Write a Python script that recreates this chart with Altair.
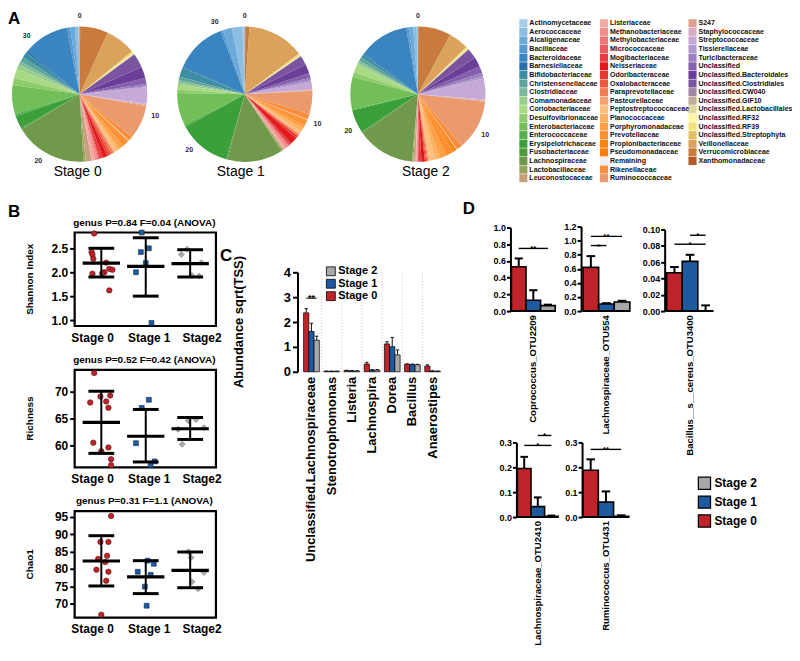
import math
import altair as alt
import pandas as pd

OFF = 8
W, H = 788, 645
FONT = "Liberation Sans"


def P(v):
    return v - OFF


def lin(domain, rng):
    return alt.Scale(domain=list(domain), range=[P(r) for r in rng], nice=False, zero=False)


RED = "#bf242a"
BLUE = "#1d5a9f"
GRAY = "#a8a8a8"
stage_names = ["Stage 0", "Stage 1", "Stage 2"]
stage_colors = [RED, BLUE, GRAY]

# ---------------- Panel A data ----------------
families = [
    "Actinomycetaceae", "Aerococcaceae", "Alcaligenaceae", "Bacillaceae", "Bacteroidaceae",
    "Barnesiellaceae", "Bifidobacteriaceae", "Christensenellaceae", "Clostridiaceae", "Comamonadaceae",
    "Coriobacteriaceae", "Desulfovibrionaceae", "Enterobacteriaceae", "Enterococcaceae", "Erysipelotrichaceae",
    "Fusobacteriaceae", "Lachnospiraceae", "Lactobacillaceae", "Leuconostocaceae",
    "Listeriaceae", "Methanobacteriaceae", "Methylobacteriaceae", "Micrococcaceae", "Mogibacteriaceae",
    "Neisseriaceae", "Odoribacteraceae", "Oxalobacteraceae", "Paraprevotellaceae", "Pasteurellaceae",
    "Peptostreptococcaceae", "Planococcaceae", "Porphyromonadaceae", "Prevotellaceae", "Propionibacteriaceae",
    "Pseudomonadaceae", "Remaining", "Rikenellaceae", "Ruminococcaceae",
    "S247", "Staphylococcaceae", "Streptococcaceae", "Tissierellaceae", "Turicibacteraceae", "Unclassified",
    "Unclassified.Bacteroidales", "Unclassified.Clostridiales", "Unclassified.CW040", "Unclassified.GIF10",
    "Unclassified.Lactobacillales", "Unclassified.RF32", "Unclassified.RF39", "Unclassified.Streptophyta",
    "Veillonellaceae", "Verrucomicrobiaceae", "Xanthomonadaceae",
]
family_colors = [
    "#a6cde8", "#8cbde2", "#6eaad9", "#5598cf", "#3a85c0",
    "#2670ad", "#3d8ea5", "#5ba59a", "#7db999", "#98cd8c",
    "#a9d982", "#8fcc6c", "#72bf58", "#55b04a", "#3b9f3a",
    "#4c9c3c", "#71994b", "#98a45e", "#c9a07e",
    "#f2aaa3", "#f18e8c", "#ef7475", "#ec5a5c", "#e83c40",
    "#e3191c", "#e7372e", "#ec5a3d", "#f07c52", "#f5a070",
    "#fdbf7c", "#fdb060", "#fda046", "#fd8f2c", "#fd8416",
    "#fa7d0e", "#f0f0f0", "#f88e3c", "#ea9a6c",
    "#dfa18e", "#d6afc6", "#c6a9d6", "#b39ace", "#9c7fc0", "#8460ad",
    "#6b3e9a", "#7a549f", "#a08aa3", "#c0ab9c",
    "#e0d6a2", "#fbf7a0", "#f1e27a", "#e2c165",
    "#dba25c", "#c87b3d", "#b55727",
]
pie_stage0 = [1, 3, 4, 3, 39, 2, 5, 4, 3, 4, 8, 6, 25, 2, 11, 1, 62, 2, 5,
              3, 2, 1, 1, 3, 4, 2, 2, 2, 1, 3, 2, 4, 4, 1, 1, 0.5, 4, 29,
              1, 1, 14, 1, 2, 5, 10, 12, 0.5, 0.3, 0.3, 0.5, 1.5, 0.5, 26, 24, 0.5]
pie_stage1 = [2, 9, 8, 2, 45, 1, 8, 3, 2, 2, 4, 3, 28, 2, 45, 1, 48, 1.5, 1,
              2, 2, 1, 1, 2, 6, 2, 1, 1, 1, 2, 3, 3, 3, 1, 1, 0.5, 5, 20,
              0.5, 0.5, 6, 2, 2, 4, 8, 8, 0.3, 0.2, 0.2, 0.3, 1.5, 0.5, 49, 3.5, 0.5]
pie_stage2 = [1, 3, 4, 2, 43, 1, 3, 3, 2, 2, 7, 4, 28, 1, 20, 1, 50, 1, 2,
              1, 0.5, 0.5, 1, 2, 3, 1, 1, 1, 1, 5, 4, 6, 6, 2, 2, 0.5, 5, 43,
              1, 1, 18, 2, 3, 6, 8, 9, 0.2, 0.3, 0.2, 0.3, 1.5, 0.5, 17, 28, 0.5]
pie_axis_total = [34, 32, 29.7]
pie_ticks = [[0, 10, 20, 30], [0, 10, 20, 30], [0, 10, 20]]

# ---------------- Panel B data ----------------
b_titles = ["genus P=0.84 F=0.04 (ANOVA)", "genus P=0.52 F=0.42 (ANOVA)", "genus P=0.31 F=1.1 (ANOVA)"]
b_ylabels = ["Shannon Index", "Richness", "Chao1"]
b_xlabels = ["Stage 0", "Stage 1", "Stage2"]

shannon_x = [[0.84, 0.78, 0.80, 0.82, 1.11, 1.18, 1.25, 1.07, 1.02, 0.80, 1.18],
             [1.91, 2.07, 1.89, 2.00, 1.78, 2.13],
             [2.93, 2.80, 3.25, 3.04, 3.20]]
shannon_v = [[2.81, 2.42, 2.37, 2.28, 2.20, 2.07, 2.05, 2.00, 1.98, 1.97, 1.62],
             [2.83, 2.50, 2.42, 2.19, 2.00, 0.94],
             [2.48, 2.37, 2.20, 1.93, 1.92]]
shannon_mean = [2.19, 2.12, 2.18]
shannon_lo = [1.90, 1.50, 1.90]
shannon_hi = [2.50, 2.72, 2.47]

richness_x = [[0.84, 0.75, 0.98, 1.20, 1.11, 1.16, 0.82, 1.00, 1.16, 1.22, 1.22],
              [2.07, 1.91, 1.78, 2.20, 2.11],
              [2.73, 2.82, 2.96, 3.13, 3.31]]
richness_v = [[73.5, 68.0, 69.1, 69.3, 68.2, 67.0, 60.5, 58.9, 59.6, 57.4, 56.3],
              [68.5, 67.0, 60.4, 57.0, 56.3],
              [63.0, 60.2, 64.6, 64.8, 63.3]]
richness_mean = [64.3, 61.7, 63.1]
richness_lo = [58.5, 56.9, 61.1]
richness_hi = [70.1, 66.7, 65.2]

chao1_x = [[1.22, 0.98, 1.16, 1.13, 0.93, 1.09, 0.89, 1.16, 1.11, 1.00],
           [2.04, 2.18, 1.82, 2.11, 1.98, 2.02],
           [2.96, 3.02, 3.04, 3.18, 3.31]]
chao1_v = [[95.3, 87.8, 87.8, 83.8, 82.9, 82.0, 79.8, 79.2, 76.6, 66.8],
           [82.4, 81.5, 79.2, 78.3, 74.9, 69.4],
           [85.0, 83.3, 76.3, 74.3, 79.0]]
chao1_mean = [82.3, 77.7, 79.6]
chao1_lo = [75.1, 72.9, 74.6]
chao1_hi = [89.6, 82.4, 84.9]

shannon_ticks = [1.0, 1.5, 2.0, 2.5]
richness_ticks = [60, 65, 70]
chao1_ticks = [70, 75, 80, 85, 90, 95]

# ---------------- Panel C data ----------------
c_cats = ["Unclassified.Lachnospiraceae", "Stenotrophomonas", "Listeria", "Lachnospira",
          "Dorea", "Bacillus", "Anaerostipes"]
c_mean = [[2.37, 0.02, 0.05, 0.31, 1.12, 0.30, 0.23],
          [1.62, 0.02, 0.04, 0.07, 1.01, 0.29, 0.03],
          [1.27, 0.02, 0.03, 0.07, 0.68, 0.28, 0.02]]
c_err = [[0.17, 0.005, 0.01, 0.07, 0.09, 0.02, 0.05],
         [0.33, 0.005, 0.01, 0.02, 0.37, 0.02, 0.01],
         [0.16, 0.005, 0.01, 0.02, 0.20, 0.02, 0.01]]
c_ticks = [0, 1, 2, 3, 4]
c_sig = [(0, 0, 2, 2.96, "**")]

# ---------------- Panel D data ----------------
d_names = ["Coprococcus_OTU2209", "Lachnospiraceae_OTU554", "Bacillus__s__cereus_OTU3400",
           "Lachnospiraceae_OTU2410", "Ruminococcus_OTU431"]
d_mean = [[0.53, 0.13, 0.065], [0.62, 0.10, 0.13], [0.047, 0.061, 0.0],
          [0.195, 0.042, 0.003], [0.188, 0.06, 0.003]]
d_err = [[0.10, 0.12, 0.012], [0.16, 0.012, 0.016], [0.007, 0.008, 0.007],
         [0.047, 0.037, 0.003], [0.044, 0.043, 0.004]]
d_sig = [[(0, 2, 0.75, "**")],
         [(0, 1, 0.93, "*"), (0, 2, 1.06, "**")],
         [(0, 2, 0.082, "*"), (1, 2, 0.093, "*")],
         [(0, 2, 0.288, "*"), (1, 2, 0.328, "*")],
         [(0, 2, 0.272, "**")]]
d_ticks = [[0.0, 0.2, 0.4, 0.6, 0.8, 1.0], [0.0, 0.2, 0.4, 0.6, 0.8, 1.0, 1.2],
           [0.0, 0.02, 0.04, 0.06, 0.08, 0.10], [0.0, 0.1, 0.2, 0.3], [0.0, 0.1, 0.2, 0.3]]
d_ymax = [1.0, 1.2, 0.10, 0.3, 0.3]
d_fmt = [".1f", ".1f", ".2f", ".1f", ".1f"]

# ---------------- helpers ----------------
layers = []


def text_at(s, x, y, size, weight="bold", align="center", baseline="middle", angle=0, color="black"):
    return alt.Chart(pd.DataFrame({"t": [s]})).mark_text(
        x=P(x), y=P(y), fontSize=size, fontWeight=weight, align=align, baseline=baseline,
        angle=angle, fill=color, font=FONT).encode(text="t:N")


def yaxis(at_x, ticks, fmt, size, tick_size=5, domain=True, pad=2):
    return alt.Axis(orient="left", offset=-P(at_x), values=ticks, format=fmt, domain=domain,
                    domainColor="black", domainWidth=2, ticks=True, tickColor="black", tickWidth=2,
                    tickSize=tick_size, labelFont=FONT, labelFontSize=size, labelFontWeight="bold",
                    labelColor="black", labelPadding=pad, grid=False, title="",
                    labelFlush=False, labelOverlap=False)


stage_fill = alt.Scale(domain=[0, 1, 2], range=stage_colors)

# ---------------- Panel letters ----------------
layers.append(text_at("A", 8, 9, 17, align="left", baseline="top"))
layers.append(text_at("B", 8, 211, 17, align="left"))
layers.append(text_at("C", 221, 256, 17, align="left"))
layers.append(text_at("D", 465, 208, 17, align="left"))

# ---------------- Panel A: pies ----------------
pie_centers = [(80, 93), (246, 93), (420, 93)]
stage_label_x = [78, 242, 428]
PIE_R = 68
LABEL_R = 79
for s, vals in enumerate([pie_stage0, pie_stage1, pie_stage2]):
    cx, cy = pie_centers[s]
    df = pd.DataFrame({"family": families, "value": vals,
                       "rank": list(range(len(families) - 1, -1, -1))})
    total = float(sum(vals))
    layers.append(alt.Chart(df).mark_arc(radius=PIE_R, x=P(cx), y=P(cy)).encode(
        theta=alt.Theta("value:Q", stack=True,
                        scale=alt.Scale(domain=[0, total], range=[0, 2 * math.pi])),
        color=alt.Color("family:N", scale=alt.Scale(domain=families, range=family_colors), legend=None),
        order=alt.Order("rank:Q", sort="ascending"),
    ))
    tdf = pd.DataFrame({"tick": pie_ticks[s]})
    layers.append(alt.Chart(tdf).mark_text(radius=LABEL_R, x=P(cx), y=P(cy), fontSize=7,
                                           fontWeight="bold", font=FONT, fill="#2a2a2a").encode(
        theta=alt.Theta("tick:Q", scale=alt.Scale(domain=[0, pie_axis_total[s]], range=[0, 2 * math.pi])),
        text=alt.Text("tick:Q"),
    ))
    layers.append(text_at(stage_names[s], stage_label_x[s], 171, 14, weight="normal"))

# family legend
leg_col = [0] * 19 + [1] * 19 + [2] * 17
leg_row = list(range(19)) + list(range(19)) + list(range(17))
ldf = pd.DataFrame({"family": families, "col": leg_col, "row": leg_row})
leg_x = lin([0, 1, 2], (526, 607, 696))
leg_y = lin([0, 18], (21.7, 21.7 + 18 * 8.65))
layers.append(alt.Chart(ldf).mark_square(size=66, opacity=1).encode(
    x=alt.X("col:Q", scale=leg_x, axis=None),
    y=alt.Y("row:Q", scale=leg_y, axis=None),
    color=alt.Color("family:N", scale=alt.Scale(domain=families, range=family_colors), legend=None),
))
layers.append(alt.Chart(ldf).mark_text(dx=6, align="left", baseline="middle", fontSize=7.1,
                                       fontWeight="bold", font=FONT, fill="#111111").encode(
    x=alt.X("col:Q", scale=leg_x, axis=None),
    y=alt.Y("row:Q", scale=leg_y, axis=None),
    text="family:N",
))

# ---------------- Panel B ----------------
B_XDOM = (0.4, 3.58)
B_XR = (75, 217)
b_panels = [
    dict(x=shannon_x, v=shannon_v, m=shannon_mean, lo=shannon_lo, hi=shannon_hi,
         ydom=(0.875, 2.83), yr=(326, 232), ticks=shannon_ticks, fmt=".1f"),
    dict(x=richness_x, v=richness_v, m=richness_mean, lo=richness_lo, hi=richness_hi,
         ydom=(55.9, 74.1), yr=(468, 370), ticks=richness_ticks, fmt="d"),
    dict(x=chao1_x, v=chao1_v, m=chao1_mean, lo=chao1_lo, hi=chao1_hi,
         ydom=(66.0, 96.7), yr=(619, 512), ticks=chao1_ticks, fmt="d"),
]
b_xlabel_px = [93, 150, 203]
shapes = ["circle", "square", "diamond"]
pt_stroke = ["#5e0d10", "#0c2c55", "#7a7a7a"]
pt_size = [30, 24, 36]
for k, bp in enumerate(b_panels):
    xs = lin(B_XDOM, B_XR)
    ys = lin(bp["ydom"], bp["yr"])
    frame = pd.DataFrame({"x0": [B_XDOM[0]], "x1": [B_XDOM[1]], "y0": [bp["ydom"][0]], "y1": [bp["ydom"][1]]})
    layers.append(alt.Chart(frame).mark_rect(fillOpacity=0, stroke="black", strokeWidth=2.2).encode(
        x=alt.X("x0:Q", scale=xs, axis=None), x2="x1:Q",
        y=alt.Y("y0:Q", scale=ys, axis=yaxis(B_XR[0], bp["ticks"], bp["fmt"], 12, domain=False)),
        y2="y1:Q",
    ))
    for s in range(3):
        pdf = pd.DataFrame({"x": bp["x"][s], "v": bp["v"][s]})
        layers.append(alt.Chart(pdf).mark_point(shape=shapes[s], filled=True, fill=stage_colors[s],
                                                stroke=pt_stroke[s], strokeWidth=0.6, size=pt_size[s],
                                                opacity=1).encode(
            x=alt.X("x:Q", scale=xs, axis=None), y=alt.Y("v:Q", scale=ys, axis=None)))
    st = pd.DataFrame({"stage": [1, 2, 3], "m": bp["m"], "lo": bp["lo"], "hi": bp["hi"]})
    base = alt.Chart(st).transform_calculate(
        ml="datum.stage - 0.42", mr="datum.stage + 0.42",
        cl="datum.stage - 0.29", cr="datum.stage + 0.29")
    layers.append(base.mark_rule(color="black", strokeWidth=2).encode(
        x=alt.X("stage:Q", scale=xs, axis=None), y=alt.Y("lo:Q", scale=ys, axis=None), y2="hi:Q"))
    layers.append(base.mark_rule(color="black", strokeWidth=3.2).encode(
        x=alt.X("ml:Q", scale=xs, axis=None), x2="mr:Q", y=alt.Y("m:Q", scale=ys, axis=None)))
    for fld in ["lo", "hi"]:
        layers.append(base.mark_rule(color="black", strokeWidth=3).encode(
            x=alt.X("cl:Q", scale=xs, axis=None), x2="cr:Q", y=alt.Y(f"{fld}:Q", scale=ys, axis=None)))
    top, bot = bp["yr"][1], bp["yr"][0]
    layers.append(text_at(b_titles[k], 145, top - 10, 10))
    layers.append(text_at(b_ylabels[k], 30, (top + bot) / 2, 10, angle=270))
    for s in range(3):
        layers.append(text_at(b_xlabels[s], b_xlabel_px[s], bot + 12, 12))

# ---------------- Panel C ----------------
C_XDOM = (0, 7)
C_XR = (302.85, 444.95)
C_YDOM = (0, 4)
C_YR = (372, 272)
cxs = lin(C_XDOM, C_XR)
cys = lin(C_YDOM, C_YR)
rows = []
for s in range(3):
    for i in range(len(c_cats)):
        rows.append({"cat": i, "stage": s, "v": c_mean[s][i], "e": c_err[s][i]})
cdf = pd.DataFrame(rows)
grid = pd.DataFrame({"g": list(range(1, len(c_cats)))})
layers.append(alt.Chart(grid).transform_calculate(y0=f"{C_YDOM[0]}", y1=f"{C_YDOM[1]}").mark_rule(
    color="#c8c8c8", strokeDash=[1, 2], strokeWidth=1).encode(
    x=alt.X("g:Q", scale=cxs, axis=None), y=alt.Y("y0:Q", scale=cys, axis=None), y2="y1:Q"))
cbase = alt.Chart(cdf).transform_calculate(
    xa="datum.cat + 0.11 + 0.26 * datum.stage", xb="datum.cat + 0.37 + 0.26 * datum.stage",
    xc="datum.cat + 0.24 + 0.26 * datum.stage", ca="datum.cat + 0.16 + 0.26 * datum.stage",
    cb="datum.cat + 0.32 + 0.26 * datum.stage", top="datum.v + datum.e", zero="0")
layers.append(cbase.mark_rule(color="#222222", strokeWidth=1.1).encode(
    x=alt.X("xc:Q", scale=cxs, axis=None), y=alt.Y("v:Q", scale=cys, axis=None), y2="top:Q"))
layers.append(cbase.mark_rule(color="#222222", strokeWidth=1.1).encode(
    x=alt.X("ca:Q", scale=cxs, axis=None), x2="cb:Q", y=alt.Y("top:Q", scale=cys, axis=None)))
layers.append(cbase.mark_rect(stroke="black", strokeWidth=0.7).encode(
    x=alt.X("xa:Q", scale=cxs, axis=None), x2="xb:Q",
    y=alt.Y("v:Q", scale=cys, axis=yaxis(299, c_ticks, "d", 13, tick_size=5, pad=2)), y2="zero:Q",
    fill=alt.Fill("stage:N", scale=stage_fill, legend=None)))
csig = pd.DataFrame([{"cat": c, "a": a, "b": b, "y": y, "lab": lab} for c, a, b, y, lab in c_sig])
sbase = alt.Chart(csig).transform_calculate(
    xa="datum.cat + 0.24 + 0.26 * datum.a", xb="datum.cat + 0.24 + 0.26 * datum.b",
    xm="datum.cat + 0.24 + 0.13 * (datum.a + datum.b)")
layers.append(sbase.mark_rule(color="black", strokeWidth=1).encode(
    x=alt.X("xa:Q", scale=cxs, axis=None), x2="xb:Q", y=alt.Y("y:Q", scale=cys, axis=None)))
layers.append(sbase.mark_text(fontSize=9, fontWeight="bold", font=FONT, baseline="alphabetic", dy=3).encode(
    x=alt.X("xm:Q", scale=cxs, axis=None), y=alt.Y("y:Q", scale=cys, axis=None), text="lab:N"))
catdf = pd.DataFrame({"c": [i + 0.5 for i in range(len(c_cats))], "name": c_cats})
layers.append(alt.Chart(catdf).mark_text(angle=270, align="right", baseline="middle", y=P(377),
                                         fontSize=13, fontWeight="bold", font=FONT, fill="black").encode(
    x=alt.X("c:Q", scale=cxs, axis=None), text="name:N"))
layers.append(text_at("Abundance sqrt(TSS)", 240, 322, 13, angle=270))
# C legend
sdf = pd.DataFrame({"stage": [0, 1, 2], "name": stage_names})
cly = lin([0, 2], (296, 271))
layers.append(alt.Chart(sdf).mark_square(size=80, stroke="black", strokeWidth=0.8, opacity=1, x=P(332.5)).encode(
    y=alt.Y("stage:Q", scale=cly, axis=None), fill=alt.Fill("stage:N", scale=stage_fill, legend=None)))
layers.append(alt.Chart(sdf).mark_text(x=P(340), align="left", baseline="middle", fontSize=11,
                                       fontWeight="bold", font=FONT, fill="black").encode(
    y=alt.Y("stage:Q", scale=cly, axis=None), text="name:N"))

# ---------------- Panel D ----------------
d_layout = [
    # axis x, bars x0, bars x1, zero y, top y, label top
    (513, 514, 558, 311, 227, 315),
    (584, 586, 633, 311, 226, 315),
    (668, 670, 717, 311, 229, 315),
    (519, 520, 561, 518, 443, 522),
    (585, 586, 632, 518, 443, 522),
]
for k in range(5):
    ax, x0, x1, zy, ty, ltop = d_layout[k]
    xs = lin([0, 3], (x0, x1))
    ys = lin([0, d_ymax[k]], (zy, ty))
    ddf = pd.DataFrame({"stage": [0, 1, 2], "v": d_mean[k], "e": d_err[k]})
    dbase = alt.Chart(ddf).transform_calculate(
        xa="datum.stage", xb="datum.stage + 1", xc="datum.stage + 0.5",
        ca="datum.stage + 0.22", cb="datum.stage + 0.78", top="datum.v + datum.e", zero="0")
    layers.append(dbase.mark_rule(color="black", strokeWidth=2).encode(
        x=alt.X("xc:Q", scale=xs, axis=None), y=alt.Y("v:Q", scale=ys, axis=None), y2="top:Q"))
    layers.append(dbase.mark_rule(color="black", strokeWidth=2).encode(
        x=alt.X("ca:Q", scale=xs, axis=None), x2="cb:Q", y=alt.Y("top:Q", scale=ys, axis=None)))
    layers.append(dbase.mark_rect(stroke="black", strokeWidth=1.6).encode(
        x=alt.X("xa:Q", scale=xs, axis=None), x2="xb:Q",
        y=alt.Y("v:Q", scale=ys, axis=yaxis(ax, d_ticks[k], d_fmt[k], 9, tick_size=4, pad=1)),
        y2="zero:Q",
        fill=alt.Fill("stage:N", scale=stage_fill, legend=None)))
    bl = pd.DataFrame({"a": [0], "b": [3], "z": [0]})
    layers.append(alt.Chart(bl).mark_rule(color="black", strokeWidth=2).encode(
        x=alt.X("a:Q", scale=xs, axis=None), x2="b:Q", y=alt.Y("z:Q", scale=ys, axis=None)))
    sg = pd.DataFrame([{"a": a, "b": b, "y": y, "lab": lab} for a, b, y, lab in d_sig[k]])
    sgb = alt.Chart(sg).transform_calculate(xa="datum.a + 0.5", xb="datum.b + 0.5",
                                            xm="(datum.a + datum.b) / 2 + 0.5")
    layers.append(sgb.mark_rule(color="black", strokeWidth=1.4).encode(
        x=alt.X("xa:Q", scale=xs, axis=None), x2="xb:Q", y=alt.Y("y:Q", scale=ys, axis=None)))
    layers.append(sgb.mark_text(fontSize=8, fontWeight="bold", font=FONT, baseline="alphabetic", dy=3).encode(
        x=alt.X("xm:Q", scale=xs, axis=None), y=alt.Y("y:Q", scale=ys, axis=None), text="lab:N"))
    layers.append(text_at(d_names[k], (x0 + x1) / 2, ltop, 9.6, angle=270, align="right"))

# D legend
dly = lin([0, 2], (522, 484))
layers.append(alt.Chart(sdf).mark_square(size=150, stroke="black", strokeWidth=1.2, opacity=1, x=P(708)).encode(
    y=alt.Y("stage:Q", scale=dly, axis=None), fill=alt.Fill("stage:N", scale=stage_fill, legend=None)))
layers.append(alt.Chart(sdf).mark_text(x=P(718), align="left", baseline="middle", fontSize=12,
                                       fontWeight="bold", font=FONT, fill="black").encode(
    y=alt.Y("stage:Q", scale=dly, axis=None), text="name:N"))

chart = alt.layer(*layers).resolve_scale(
    x="independent", y="independent", color="independent", fill="independent", theta="independent"
).properties(
    width=W, height=H, autosize=alt.AutoSizeParams(type="none"), padding=0
).configure_view(stroke="transparent")

chart.save("out.html", embed_options={"renderer": "svg", "actions": False})
